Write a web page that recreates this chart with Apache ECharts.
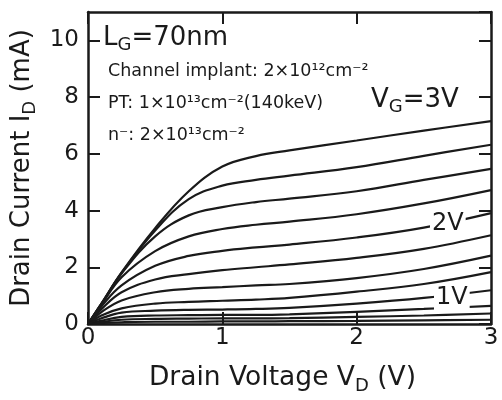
<!DOCTYPE html>
<html>
<head>
<meta charset="utf-8">
<script src="https://cdn.jsdelivr.net/npm/echarts@6/dist/echarts.min.js"></script>
<style>
html,body{margin:0;padding:0;background:#fff;}
#chart{width:502px;height:400px;}
</style>
</head>
<body>
<div id="chart"></div>
<script>
// drain voltage samples (V)
const vd = [0, 0.1, 0.25, 0.5, 0.75, 1.0, 1.25, 1.5, 2.0, 2.5, 3.0];

// drain current (mA), one array per gate voltage
const id300 = [0, 0.72, 1.82, 3.38, 4.68, 5.55, 5.92, 6.12, 6.47, 6.82, 7.15];
const id275 = [0, 0.72, 1.80, 3.30, 4.40, 4.88, 5.08, 5.23, 5.53, 5.93, 6.32];
const id250 = [0, 0.70, 1.78, 3.09, 3.83, 4.12, 4.30, 4.42, 4.68, 5.08, 5.47];
const id225 = [0, 0.68, 1.65, 2.57, 3.09, 3.35, 3.50, 3.61, 3.87, 4.25, 4.72];
const id200 = [0, 0.62, 1.36, 2.05, 2.40, 2.58, 2.70, 2.80, 3.05, 3.40, 3.91];
const id175 = [0, 0.52, 1.12, 1.57, 1.76, 1.90, 2.00, 2.10, 2.33, 2.65, 3.13];
const id150 = [0, 0.42, 0.83, 1.12, 1.24, 1.30, 1.36, 1.41, 1.62, 1.94, 2.41];
const id125 = [0, 0.30, 0.55, 0.72, 0.78, 0.82, 0.86, 0.92, 1.14, 1.41, 1.83];
const id100 = [0, 0.20, 0.40, 0.47, 0.50, 0.51, 0.53, 0.57, 0.72, 0.92, 1.19];
const id075 = [0, 0.12, 0.25, 0.30, 0.31, 0.32, 0.32, 0.34, 0.43, 0.53, 0.64];
const id050 = [0, 0.07, 0.15, 0.18, 0.19, 0.20, 0.20, 0.21, 0.25, 0.30, 0.37];
const id025 = [0, 0.03, 0.06, 0.08, 0.08, 0.09, 0.09, 0.10, 0.11, 0.13, 0.15];

const curves = [id300, id275, id250, id225, id200, id175, id150, id125, id100, id075, id050, id025];
// curves that carry an inline label: [curve index, text, point index]
const curveLabels = [[4, '2V', 9], [8, '1V', 9]];

const ink = '#1a1a1a';
const font = 'DejaVu Sans';

const series = curves.map((ids, k) => {
  const lab = curveLabels.find(l => l[0] === k);
  return {
    type: 'line',
    smooth: 0.4,
    symbol: 'none',
    z: lab ? 4 : 2,
    lineStyle: {color: ink, width: 2.2},
    silent: true,
    data: vd.map((v, i) => {
      if (lab && lab[2] === i) {
        return {
          value: [v, ids[i]],
          symbol: 'circle',
          symbolSize: 1,
          itemStyle: {color: ink},
          label: {
            show: true, formatter: lab[1], position: 'inside',
            offset: k === 4 ? [24, -4] : [28, 0],
            fontSize: 24, color: ink, fontFamily: font,
            backgroundColor: '#fff', padding: [0, 2, 0, 2]
          }
        };
      }
      return [v, ids[i]];
    })
  };
});

const frame = {show: true, onZero: false, lineStyle: {color: ink, width: 2.5}};
const tick = {show: true, inside: true, length: 12, lineStyle: {color: ink, width: 2}};
const sub = {fontSize: 18, fontFamily: font, color: ink, padding: [15, 0, 0, 0]};

const chart = echarts.init(document.getElementById('chart'));
chart.setOption({
  animation: false,
  backgroundColor: '#fff',
  textStyle: {fontFamily: font},
  grid: {left: 88, right: 11, top: 12, bottom: 71},
  xAxis: [{
    type: 'value', min: 0, max: 3, interval: 1, position: 'bottom',
    axisLine: frame, axisTick: tick, splitLine: {show: false},
    axisLabel: {fontSize: 23, color: ink, margin: 3},
    name: 'Drain Voltage V{s|D} (V)', nameLocation: 'middle', nameGap: 38,
    nameTextStyle: {fontSize: 26.5, color: ink, rich: {s: sub}, padding: [0, 14, 0, 0]}
  }, {
    type: 'value', min: 0, max: 3, interval: 1, position: 'top',
    axisLine: frame, axisTick: tick, splitLine: {show: false},
    axisLabel: {show: false}
  }],
  yAxis: [{
    type: 'value', min: 0, max: 11, interval: 2, position: 'left',
    axisLine: frame, axisTick: tick, splitLine: {show: false},
    axisLabel: {fontSize: 23, color: ink, margin: 9, showMaxLabel: false},
    name: 'Drain Current I{s|D} (mA)', nameLocation: 'middle', nameGap: 48,
    nameRotate: 90,
    nameTextStyle: {fontSize: 26, color: ink, rich: {s: sub}}
  }, {
    type: 'value', min: 0, max: 11, interval: 2, position: 'right',
    axisLine: frame, axisTick: tick, splitLine: {show: false},
    axisLabel: {show: false}
  }],
  graphic: [
    {type: 'text', left: 103, top: 25, style: {
      text: 'L{s|G}=70nm', fill: ink, font: '26px "DejaVu Sans"',
      rich: {s: {fontSize: 18, fontFamily: font, fill: ink, padding: [14, 0, 0, 0]}}
    }},
    {type: 'text', left: 108, top: 62, style: {
      text: 'Channel implant: 2×10¹²cm⁻²', fill: ink, font: '17.5px "DejaVu Sans"'}},
    {type: 'text', left: 108, top: 94, style: {
      text: 'PT: 1×10¹³cm⁻²(140keV)', fill: ink, font: '17.5px "DejaVu Sans"'}},
    {type: 'text', left: 108, top: 126, style: {
      text: 'n⁻: 2×10¹³cm⁻²', fill: ink, font: '17.5px "DejaVu Sans"'}},
    {type: 'text', left: 371, top: 87, style: {
      text: 'V{s|G}=3V', fill: ink, font: '26px "DejaVu Sans"',
      rich: {s: {fontSize: 18, fontFamily: font, fill: ink, padding: [14, 0, 0, 0]}}
    }}
  ],
  series: series
});
</script>
</body>
</html>
